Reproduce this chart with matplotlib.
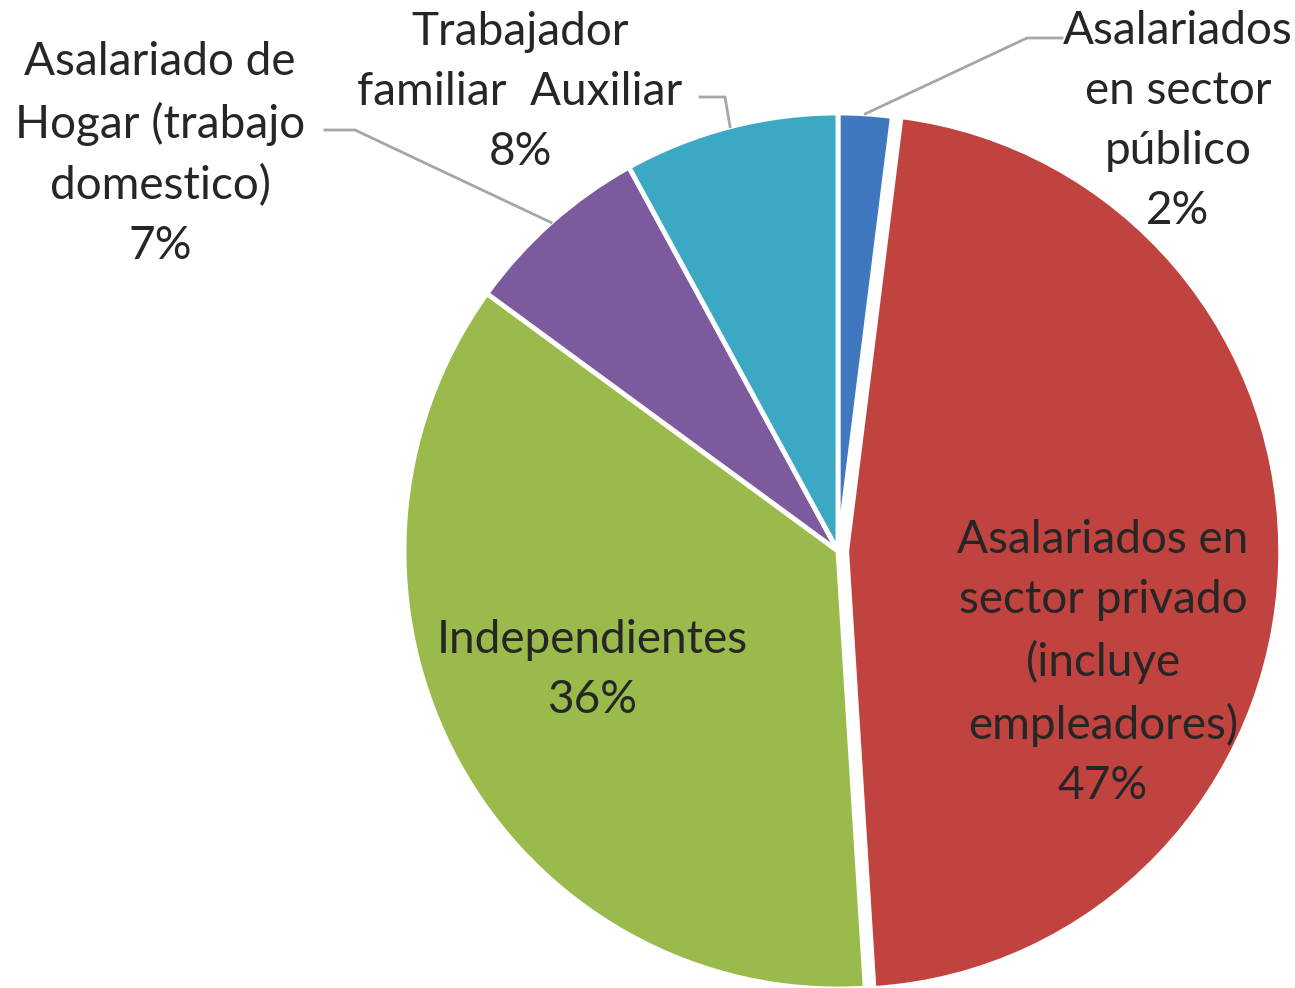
import numpy as np
import matplotlib.pyplot as plt

# ==============================
# data
# ==============================
categorias = [
    "Asalariados\nen sector\npúblico",
    "Asalariados en\nsector privado\n(incluye\nempleadores)",
    "Independientes",
    "Asalariado de\nHogar (trabajo\ndomestico)",
    "Trabajador\nfamiliar  Auxiliar",
]
porcentajes = [2, 47, 36, 7, 8]
colores = ["#3F78BF", "#C0433F", "#9ABA4C", "#7B5A9D", "#3BA9C4"]
separar = [0, 0.02, 0, 0, 0]

# pixel geometry of the pie in the picture (slightly taller than wide)
W, H = 1295, 988
CX, CY = 838, 551
RX, RY = 434, 438


def px(x, y):
    """pixel (from top-left) -> data coords"""
    return (x - CX) / RX, (CY - y) / RY


plt.rcParams['font.family'] = ['Lato', 'DejaVu Sans']

fig = plt.figure(figsize=(W / 100, H / 100), dpi=100)
ax = fig.add_axes([0, 0, 1, 1])

wedges, _ = ax.pie(porcentajes, colors=colores, startangle=90, counterclock=False,
                   explode=separar, radius=1,
                   wedgeprops=dict(edgecolor="white", linewidth=3.5))

ax.set_aspect('auto')
ax.set_xlim(-CX / RX, (W - CX) / RX)
ax.set_ylim(-(H - CY) / RY, CY / RY)
ax.axis('off')

txt = dict(ha='center', va='center', multialignment='center',
           fontsize=33, color='#262626', linespacing=1.52)

# label centres in pixels (layout only)
pos_labels = [(1178, 121), (1103, 663), (592, 670), (160, 154), (520, 92)]
# leader elbows for outside labels (pixels)
codos = {0: [(1027, 38), (1062, 38)],
         3: [(355, 130), (325, 130)],
         4: [(725, 97), (700, 97)]}

for i, (cat, val) in enumerate(zip(categorias, porcentajes)):
    x, y = px(*pos_labels[i])
    ax.text(x, y, f"{cat}\n{val}%", **txt)
    if i in codos:
        w = wedges[i]
        ang = np.deg2rad((w.theta1 + w.theta2) / 2)
        pts = [(np.cos(ang), np.sin(ang))] + [px(*p) for p in codos[i]]
        xs, ys = zip(*pts)
        ax.plot(xs, ys, color='#A6A6A6', lw=2)

plt.savefig("out.png", dpi=100)
